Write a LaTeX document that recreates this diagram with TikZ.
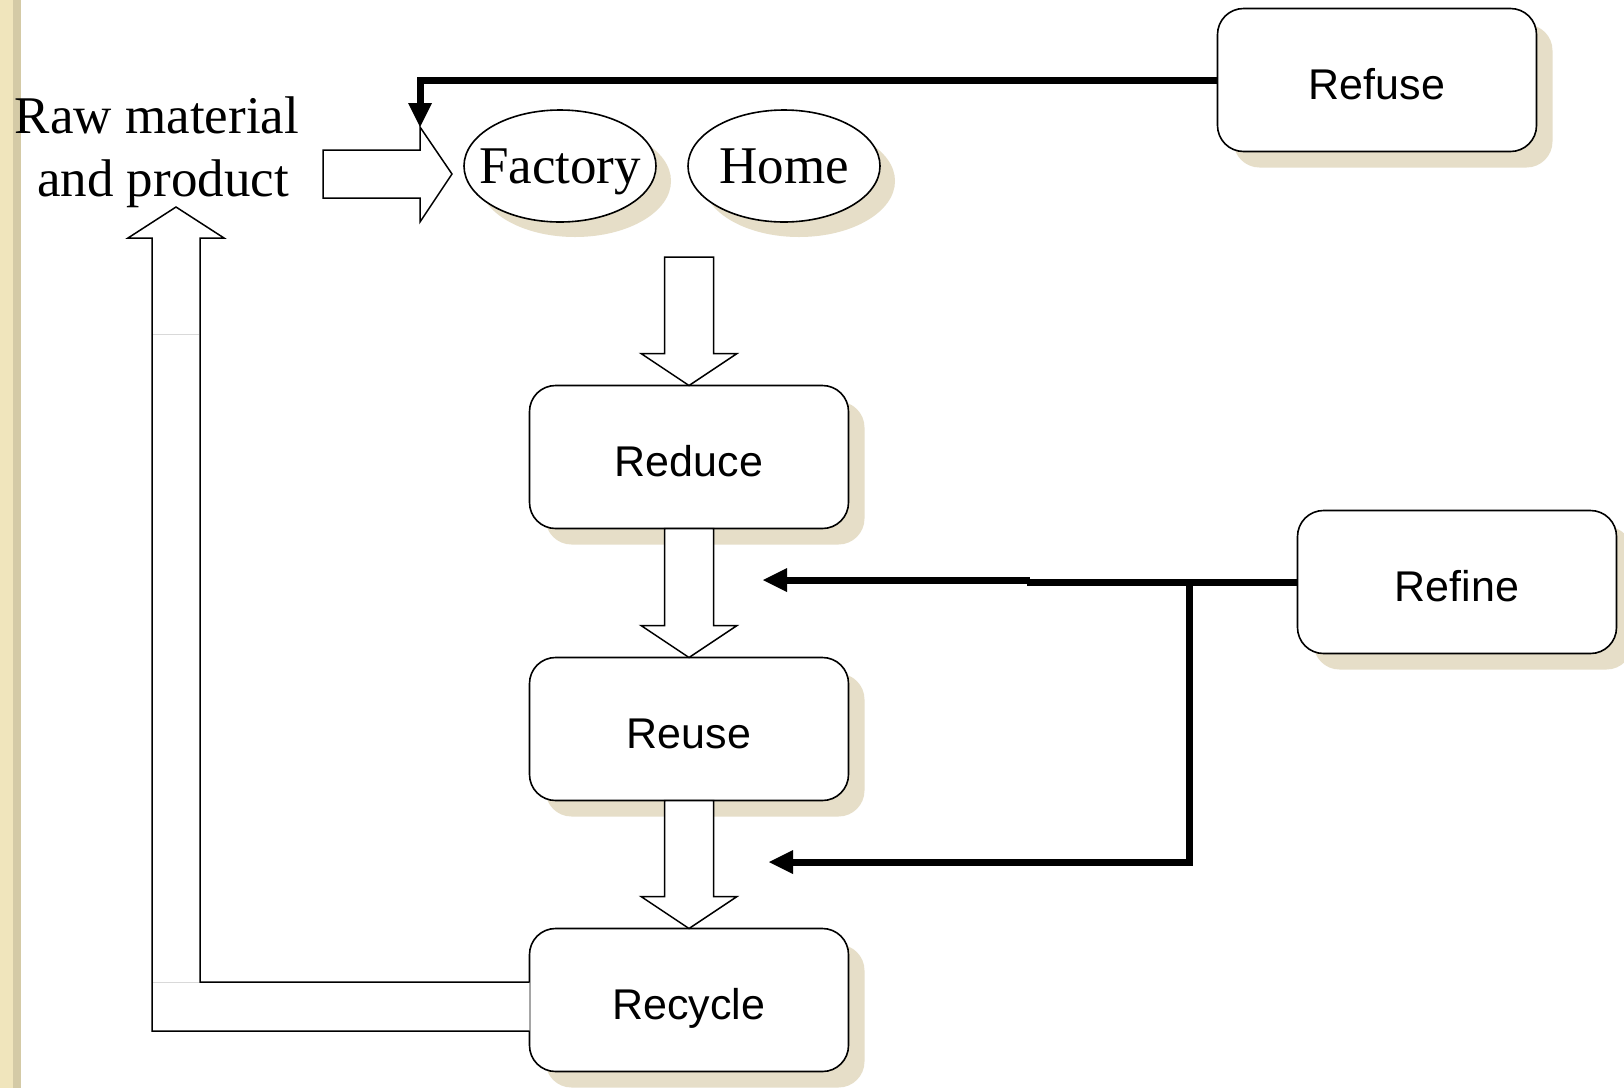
\documentclass[tikz,border=0pt]{standalone}
\usepackage{fontspec}
\setmainfont{Liberation Serif}
\setsansfont{Liberation Sans}
\usetikzlibrary{arrows.meta,positioning,shapes,shadows,calc}

\definecolor{shadowtan}{RGB}{230,222,200}
\definecolor{striplight}{RGB}{240,229,188}
\definecolor{stripdark}{RGB}{212,202,166}

% hollow block arrow pointing down, from #1 to the tip #2
\newcommand{\blockdown}[2]{\draw[hollow] ($(#1)+(-24.5,0)$) -- ($(#2)+(-24.5,-32)$) -- ($(#2)+(-48,-32)$) -- (#2) -- ($(#2)+(48,-32)$) -- ($(#2)+(24.5,-32)$) -- ($(#1)+(24.5,0)$) -- cycle;}

\begin{document}
\begin{tikzpicture}[x=1pt,y=-1pt,
    rbox/.style={draw,line width=1.6pt,rounded corners=26pt,fill=white,drop shadow={shadow xshift=16pt,shadow yshift=-16pt,fill=shadowtan,opacity=1},font=\fontsize{43}{50}\sffamily, minimum width=319pt, minimum height=143pt, text height=39pt, text depth=0pt, inner sep=0pt, outer sep=0pt},
    oval/.style={draw,ellipse,line width=1.6pt,fill=white,drop shadow={shadow xshift=15pt,shadow yshift=-15pt,fill=shadowtan,opacity=1},font=\fontsize{53}{60}\selectfont, minimum width=192pt, minimum height=112pt, text height=35pt, text depth=0pt, inner sep=0pt, outer sep=0pt},
    hollow/.style={draw,line width=1.5pt,fill=white,line join=miter},
    feed/.style={line width=7pt,line join=miter},
    feedarrow/.style={feed,-{Triangle[length=24pt,width=24pt,line width=0pt]}}
    ]
    %cadre
\useasboundingbox (0,0) rectangle (1624,1088);
\fill[white] (0,0) rectangle (1624,1088);
\fill[striplight] (0,0) rectangle (13,1088);
\fill[stripdark] (13,0) rectangle (21,1088);

    \node[align=center,font=\fontsize{53}{63}\selectfont] (raw) at (157,152) {Raw material\\\hspace*{12pt}and product};
    \node[oval] (factory) at (560,166) {\makebox[0pt]{Factory}};
    \node[oval] (home)    at (784,166) {\makebox[0pt]{Home}};
    \node[rbox] (refuse)  at (1377,80)   {Refuse};
    \node[rbox] (reduce)  at (689,457)   {Reduce};
    \node[rbox] (reuse)   at (689,729)   {Reuse};
    \node[rbox] (recycle) at (689,1000)  {Recycle};
    \node[rbox] (refine)  at (1457,582)  {Refine};

    \coordinate (rawtail)   at (323,174);
    \coordinate (rawtip)    at (452,174);
    \coordinate (rawcorner) at (420,127);
    \coordinate (source)    at (689,257);
    \coordinate (uptip)     at (176,207);
    \coordinate (reducegap) at (763,580);
    \coordinate (reusegap)  at (769,862);
    \coordinate (refinestep)  at (1027,582);
    \coordinate (refinesplit) at (1189,582);

    %block arrows
    \draw[hollow] ($(rawtail)+(0,-24)$) -- ($(rawtip)+(-32,-24)$) -- (rawcorner) -- (rawtip) -- ($(rawtip)+(-32,48)$) -- ($(rawtip)+(-32,24)$) -- ($(rawtail)+(0,24)$) -- cycle;
    \blockdown{source}{reduce.north}
    \blockdown{reduce.south}{reuse.north}
    \blockdown{reuse.south}{recycle.north}
    \draw[hollow] ($(recycle.west)+(0,-18)$) -| ($(uptip)+(24,31)$) -- ($(uptip)+(48,31)$) -- (uptip) -- ($(uptip)+(-48,31)$) -- ($(uptip)+(-24,31)$) |- ($(recycle.west)+(0,31)$);
    \draw[gray!30,line width=1pt] (153,334) -- (199,334);
    \draw[gray!30,line width=1pt] (153,982) -- (199,982);

    %feedback lines
    \draw[feedarrow] (refuse.west) -| (rawcorner);
    \draw[feed] (refine.west) -- (refinestep);
    \draw[feedarrow] ($(refinestep |- reducegap)+(3,0)$) -- (reducegap);
    \draw[feedarrow] (refinesplit) |- (reusegap);
\end{tikzpicture}
\end{document}
